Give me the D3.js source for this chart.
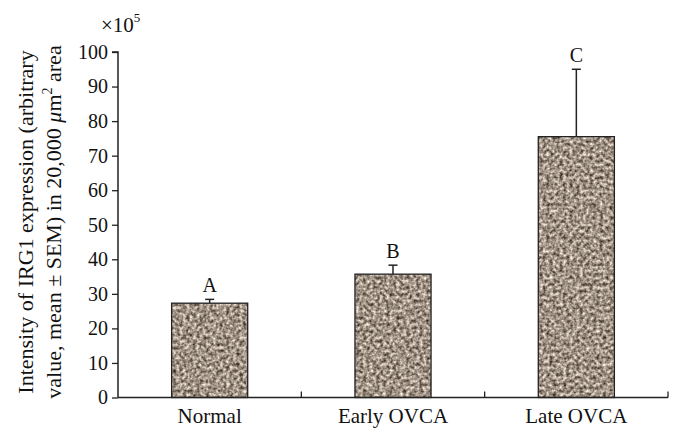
<!DOCTYPE html>
<html><head><meta charset="utf-8">
<script src="https://cdn.jsdelivr.net/npm/d3@7"></script>
<style>body{margin:0;background:#fff}svg{display:block}text{font-family:"Liberation Serif","DejaVu Serif",serif;fill:#111}</style>
</head><body>
<svg id="c" width="684" height="441"></svg>
<script>
const categories = ["Normal", "Early OVCA", "Late OVCA"];
const means = [27.3, 35.7, 75.5];
const errors = [1.1, 2.6, 19.5];
const letters = ["A", "B", "C"];
const yTicks = [0,10,20,30,40,50,60,70,80,90,100];

(function(){
const svg = d3.select("#c");
const L = 118, R = 668, T = 52, B = 397.5;
const x = d3.scaleBand().domain(categories).range([L, R]).padding(0);
const y = d3.scaleLinear().domain([0, 100]).range([B, T]);

// texture
const defs = svg.append("defs");
const filt = defs.append("filter").attr("id","noise").attr("x",0).attr("y",0).attr("width","100%").attr("height","100%")
  .attr("color-interpolation-filters","sRGB");
filt.append("feTurbulence").attr("type","fractalNoise").attr("baseFrequency","0.3").attr("numOctaves","2").attr("seed","5").attr("result","t");
filt.append("feColorMatrix").attr("in","t").attr("type","matrix")
  .attr("values","1.15 0 0 0 0.05  1.15 0 0 0 0.0  1.15 0 0 0 -0.05  0 0 0 0 1").attr("result","c");
filt.append("feComposite").attr("in","c").attr("in2","SourceGraphic").attr("operator","in");

const bw = x.bandwidth() * 0.415;
const g = svg.append("g");
categories.forEach((c, i) => {
  const cx = x(c) + x.bandwidth()/2;
  g.append("rect").attr("x", cx - bw/2).attr("y", y(means[i])).attr("width", bw).attr("height", y(0) - y(means[i]))
    .attr("fill", "#9c8e7e").attr("filter","url(#noise)");
  g.append("rect").attr("x", cx - bw/2).attr("y", y(means[i])).attr("width", bw).attr("height", y(0) - y(means[i]))
    .attr("fill", "none").attr("stroke", "#222").attr("stroke-width", 1.3);
  const et = y(means[i] + errors[i]);
  g.append("line").attr("x1", cx).attr("x2", cx).attr("y1", y(means[i])).attr("y2", et).attr("stroke","#222").attr("stroke-width",1.5);
  g.append("line").attr("x1", cx-4.5).attr("x2", cx+4.5).attr("y1", et).attr("y2", et).attr("stroke","#222").attr("stroke-width",1.5);
  g.append("text").attr("x", cx).attr("y", et - 7).attr("text-anchor","middle").attr("font-size", 20).text(letters[i]);
});

// y axis
const ya = svg.append("g").attr("transform", `translate(${L},0)`)
  .call(d3.axisLeft(y).tickValues(yTicks).tickSize(6).tickPadding(4));
ya.select(".domain").attr("stroke","#222").attr("stroke-width",1.5).attr("d", `M-6,${T}H0V${B}`);
ya.selectAll(".tick line").attr("stroke","#222").attr("stroke-width",1.3);
ya.selectAll(".tick text").attr("font-size", 20).attr("font-family","Liberation Serif").attr("fill","#111");

// x axis
const xa = svg.append("g").attr("transform", `translate(0,${B})`);
xa.append("line").attr("x1", L).attr("x2", R).attr("y1", 0).attr("y2", 0).attr("stroke","#222").attr("stroke-width",1.5);
categories.forEach((c) => {
  const bx = x(c) + x.bandwidth();
  xa.append("line").attr("x1", bx).attr("x2", bx).attr("y1", 0).attr("y2", -6).attr("stroke","#222").attr("stroke-width",1.3);
  xa.append("text").attr("x", x(c) + x.bandwidth()/2).attr("y", 25.5).attr("text-anchor","middle").attr("font-size", 21).text(c);
});

// multiplier
const m = svg.append("text").attr("x", 101).attr("y", 32).attr("font-size", 21);
m.append("tspan").text("×10");
m.append("tspan").attr("dy", -10).attr("font-size", 13).text("5");

// y title
const cy = 222;
const t1 = svg.append("text").attr("transform", `translate(33,${cy}) rotate(-90)`).attr("text-anchor","middle").attr("font-size", 22);
t1.text("Intensity of IRG1 expression (arbitrary");
const t2 = svg.append("text").attr("transform", `translate(61,${cy}) rotate(-90)`).attr("text-anchor","middle").attr("font-size", 22);
t2.append("tspan").text("value, mean ± SEM) in 20,000 ");
t2.append("tspan").attr("font-style","italic").text("μ");
t2.append("tspan").text("m");
t2.append("tspan").attr("dy", -9).attr("font-size", 14).text("2");
t2.append("tspan").attr("dy", 9).text(" area");
})();
</script>
</body></html>
